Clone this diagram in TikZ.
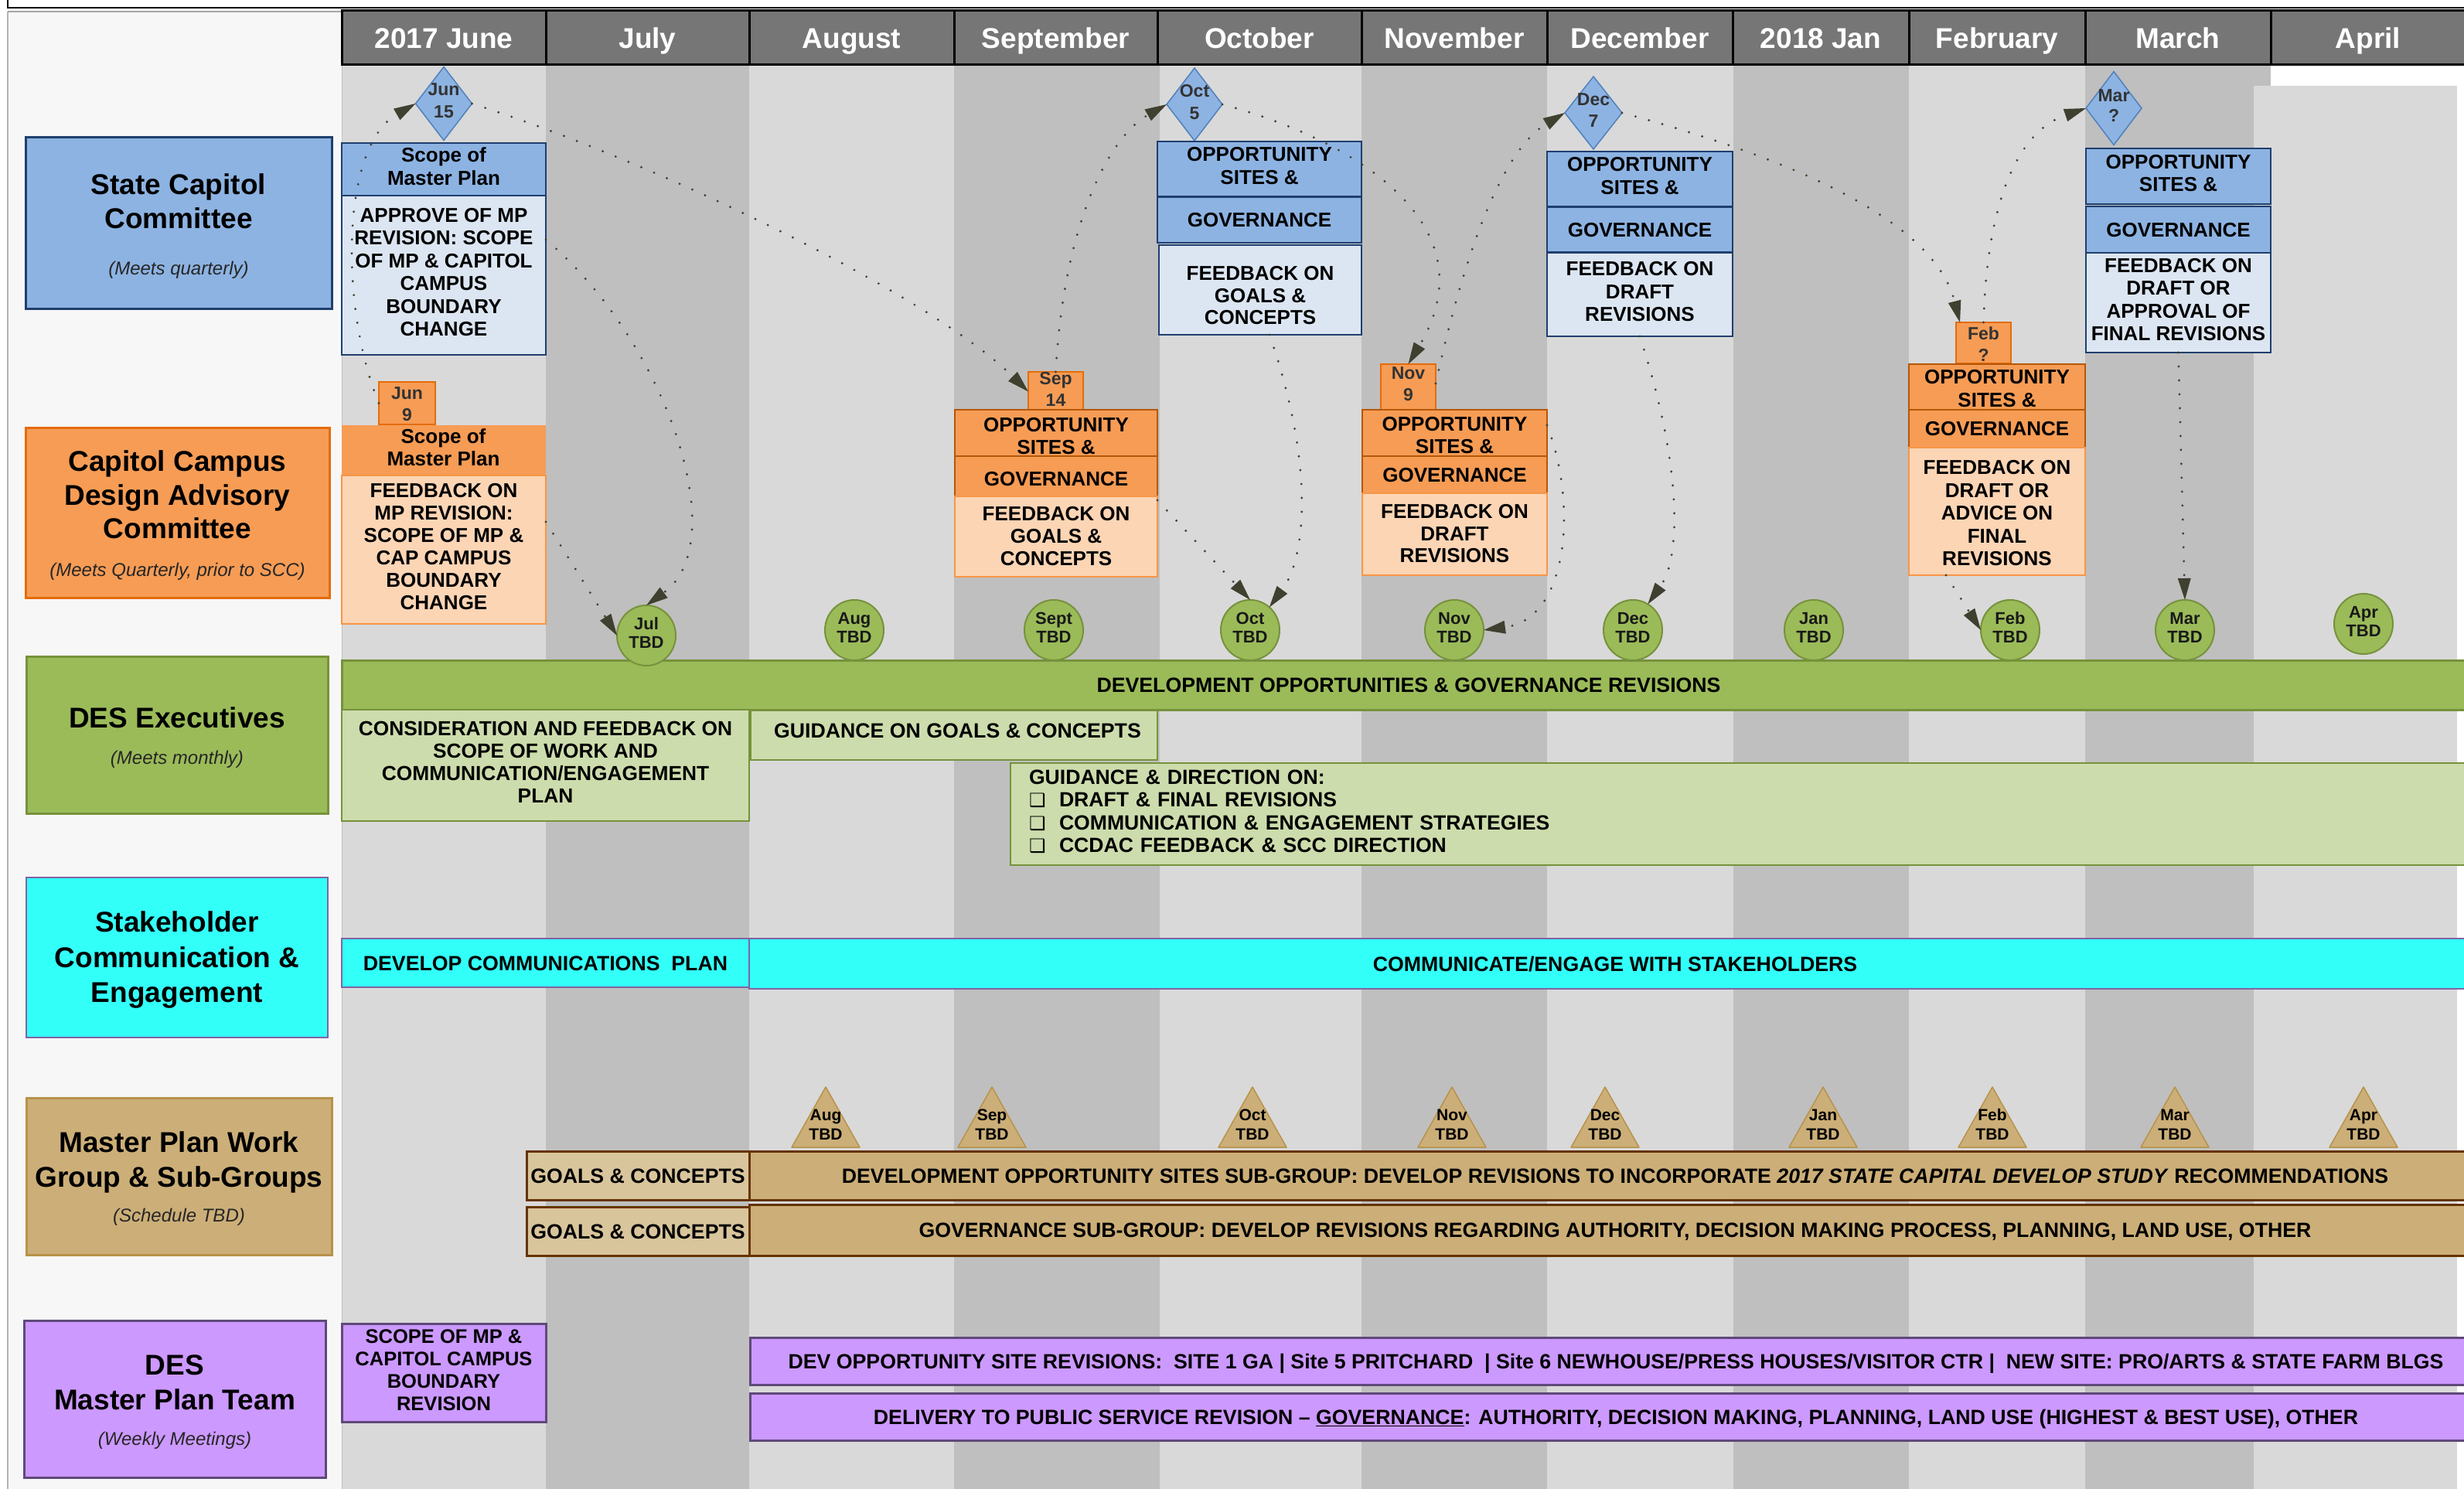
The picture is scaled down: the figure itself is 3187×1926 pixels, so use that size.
\documentclass[tikz,border=0pt]{standalone}
\usepackage{fontspec}
\setmainfont{Liberation Sans}
\newfontfamily\symfont{DejaVu Sans}
\usetikzlibrary{shapes.geometric,arrows.meta,calc}
\newcommand\fsz[2]{\fontsize{#1pt}{#2pt}\selectfont}
\newcommand\bul{\makebox[39pt][l]{\symfont\fsz{24}{24}\char"2751}}
\definecolor{hdr}{HTML}{767676}
\definecolor{colL}{HTML}{D9D9D9}
\definecolor{colD}{HTML}{BFBFBF}
\definecolor{panel}{HTML}{F7F7F7}
\definecolor{blueF}{HTML}{8DB3E2}
\definecolor{blueL}{HTML}{DCE6F2}
\definecolor{blueB}{HTML}{1F3F6E}
\definecolor{diaB}{HTML}{4F81BD}
\definecolor{orF}{HTML}{F69C55}
\definecolor{orF2}{HTML}{F79646}
\definecolor{orL}{HTML}{FCD5B5}
\definecolor{orB}{HTML}{E46C0A}
\definecolor{orB2}{HTML}{B65708}
\definecolor{grF}{HTML}{9BBB59}
\definecolor{grL}{HTML}{CDDCAC}
\definecolor{grB}{HTML}{76923C}
\definecolor{cyF}{HTML}{33FFF9}
\definecolor{cyB}{HTML}{8064A2}
\definecolor{tanF}{HTML}{CCAF78}
\definecolor{tanL}{HTML}{D9C59C}
\definecolor{tanB}{HTML}{B8924A}
\definecolor{brn}{HTML}{663300}
\definecolor{puF}{HTML}{CC99FF}
\definecolor{puB}{HTML}{5F497A}
\definecolor{arr}{HTML}{404030}
\definecolor{dtxt}{HTML}{333333}
\tikzset{
  every node/.style={inner sep=0pt, outer sep=0pt},
  tx/.style={align=center,
    execute at begin node={\rule{0pt}{1.016em}},
    execute at end node={\rule[-.3em]{0pt}{.3em}}},
  up/.style={execute at end node={\rule[-\dimexpr.3em+#1pt\relax]{0pt}{\dimexpr.3em+#1pt\relax}}},
  btx/.style={tx, font=\bfseries\fsz{26}{29.5}},
  bx/.style={tx, rectangle, anchor=north west, font=\bfseries\fsz{26}{29.5}},
  bar/.style={tx, rectangle, anchor=north west, font=\bfseries\fsz{26.7}{29.5}},
  mon/.style={bx, fill=hdr, draw=black, line width=3pt, text=white, font=\bfseries\fsz{37}{40}, minimum height=70},
  lane/.style={rectangle, anchor=north west, line width=3pt},
  ttl/.style={tx, font=\bfseries\fsz{37}{44}},
  sub/.style={tx, font=\itshape\fsz{24}{28}, text=black!85},
  sccH/.style={bx, fill=blueF, draw=blueB, line width=2pt},
  sccB/.style={bx, fill=blueL, draw=blueB, line width=2pt},
  cdH/.style={bx, fill=orF, draw=orB2, line width=2.5pt},
  cdB/.style={bx, fill=orL, draw=orF2, line width=2pt},
  dia/.style={diamond, fill=blueF, draw=diaB, line width=1.5pt},
  dsq/.style={bx, fill=orF, draw=orB, line width=2pt, text=dtxt, font=\bfseries\fsz{23}{28}},
  dtx/.style={tx, text=dtxt, font=\bfseries\fsz{23}{28}},
  mtg/.style={tx, ellipse, fill=grF, draw=grB, line width=2pt, minimum width=76, minimum height=78, text=black!90, font=\bfseries\fsz{22}{24}},
  gbar/.style={bar, fill=grF, draw=grB, line width=3pt},
  gbox/.style={bar, fill=grL, draw=grB, line width=2pt},
  cbar/.style={bar, fill=cyF, draw=cyB, line width=2pt},
  tbarL/.style={bar, fill=tanL, draw=brn, line width=3pt},
  tbar/.style={bar, fill=tanF, draw=brn, line width=3pt},
  pbar/.style={bar, fill=puF, draw=puB, line width=3pt},
  conn/.style={draw=arr, line width=3.2pt, line cap=round, dash pattern=on 0pt off 18pt,
    -{Triangle[length=28pt,width=17pt,line width=0pt]}}
}
\begin{document}
\begin{tikzpicture}[x=1pt,y=-1pt]
\useasboundingbox (0,0) rectangle (3187,1926);
\fill[white] (0,0) rectangle (3187,1926);
% left panel and month columns
\fill[panel] (10,15) rectangle (442,1926);
\fill[colL] (442,84) rectangle (2915,1926);
\foreach \a/\b in {706/969,1234/1500,1761/2001,2242/2469}{\fill[colD] (\a,84) rectangle (\b,1926);}
\fill[colD] (2697,84) rectangle (2937,111);
\fill[colD] (2697,111) rectangle (2915,1926);
\fill[colL] (2915,111) rectangle (3178,1926);
\draw[black!30, line width=1.5pt] (10,15) -- (10,1926);
\draw[black!25, line width=1pt] (442,84) -- (442,1926);
\draw[black, line width=2pt] (10,0) -- (10,10) -- (3187,10);
\draw[black!35, line width=1.5pt] (10,15) -- (3187,15);

% month header
\node[mon, minimum width=264] (m1) at (442,14) {2017 June};
\node[mon, minimum width=263] (m2) at (706,14) {July};
\node[mon, minimum width=265] (m3) at (969,14) {August};
\node[mon, minimum width=263] (m4) at (1234,14) {September};
\node[mon, minimum width=264] (m5) at (1497,14) {October};
\node[mon, minimum width=240] (m6) at (1761,14) {November};
\node[mon, minimum width=240] (m7) at (2001,14) {December};
\node[mon, minimum width=228] (m8) at (2241,14) {2018 Jan};
\node[mon, minimum width=228] (m9) at (2469,14) {February};
\node[mon, minimum width=240] (m10) at (2697,14) {March};
\node[mon, minimum width=252] (m11) at (2937,14) {April};

% lane labels
\node[lane, fill=blueF, draw=blueB, minimum width=396, minimum height=221] (L1) at (33,178) {};
\node[ttl] (L1t) at (231,266) {State Capitol\\Committee};
\node[sub] (L1s) at (231,347) {(Meets quarterly)};
\node[lane, fill=orF, draw=orB, minimum width=393, minimum height=220] (L2) at (33,553) {};
\node[ttl, font=\bfseries\fsz{37}{43.5}] (L2t) at (229.5,645.5) {Capitol Campus\\Design Advisory\\Committee};
\node[sub] (L2s) at (229.5,737) {(Meets Quarterly, prior to SCC)};
\node[lane, fill=grF, draw=grB, minimum width=390, minimum height=203] (L3) at (34,849) {};
\node[ttl] (L3t) at (229,928) {DES Executives};
\node[sub] (L3s) at (229,980) {(Meets monthly)};
\node[lane, fill=cyF, draw=cyB, line width=2.5pt, minimum width=390, minimum height=207] (L4) at (34,1135) {};
\node[ttl, font=\bfseries\fsz{37}{45.5}] (L4t) at (229,1243.5) {Stakeholder\\Communication \&\\Engagement};
\node[lane, fill=tanF, draw=tanB, minimum width=395, minimum height=203] (L5) at (34,1420) {};
\node[ttl, font=\bfseries\fsz{37}{45}] (L5t) at (231.5,1505.5) {Master Plan Work\\Group \& Sub-Groups};
\node[sub] (L5s) at (231.5,1572) {(Schedule TBD)};
\node[lane, fill=puF, draw=puB, minimum width=390, minimum height=203] (L6) at (31,1708) {};
\node[ttl, font=\bfseries\fsz{37}{45}] (L6t) at (226,1793.5) {DES\\Master Plan Team};
\node[sub] (L6s) at (226,1861) {(Weekly Meetings)};

% State Capitol Committee row
\node[dia, minimum width=73, minimum height=95] (d1) at (574,134) {};
\node[dtx, font=\bfseries\fsz{23}{29}] (d1t) at (d1) {Jun\\15};
\node[sccH, minimum width=264, minimum height=68] (s1h) at (442,185) {Scope of\\Master Plan};
\node[sccB, minimum width=264, minimum height=206] (s1b) at (442,253) {APPROVE OF MP\\REVISION: SCOPE\\OF MP \& CAPITOL\\CAMPUS\\BOUNDARY\\CHANGE};
\node[dia, minimum width=72, minimum height=94] (d2) at (1545,135) {};
\node[dtx, font=\bfseries\fsz{23}{29}] (d2t) at (d2) {Oct\\5};
\node[sccH, minimum width=264, minimum height=71] (s2a) at (1497,183) {OPPORTUNITY\\SITES \&};
\node[sccH, minimum width=264, minimum height=59] (s2g) at (1497,255) {GOVERNANCE};
\node[sccB, minimum width=262, minimum height=116] (s2b) at (1499,317) {};
\node[btx, font=\bfseries\fsz{26}{28.5}] (s2bt) at ($(s2b.center)+(0,11)$) {FEEDBACK ON\\GOALS \&\\CONCEPTS};
\node[dia, minimum width=74, minimum height=94] (d3) at (2061,146) {};
\node[dtx] (d3t) at (d3) {Dec\\7};
\node[sccH, minimum width=240, minimum height=71] (s3a) at (2001,196) {OPPORTUNITY\\SITES \&};
\node[sccH, minimum width=240, minimum height=58] (s3g) at (2001,268) {GOVERNANCE};
\node[sccB, minimum width=240, minimum height=108] (s3b) at (2001,327) {FEEDBACK ON\\DRAFT\\REVISIONS};
\node[dia, minimum width=72, minimum height=95] (d4) at (2734,140) {};
\node[dtx, font=\bfseries\fsz{23}{26}] (d4t) at (d4) {Mar\\?};
\node[sccH, minimum width=239, minimum height=72] (s4a) at (2698,192) {OPPORTUNITY\\SITES \&};
\node[sccH, minimum width=239, minimum height=60] (s4g) at (2698,267) {GOVERNANCE};
\node[sccB, minimum width=239, minimum height=129] (s4b) at (2698,327) {FEEDBACK ON\\DRAFT OR\\APPROVAL OF\\FINAL REVISIONS};

% CCDAC row
\node[dsq, minimum width=73, minimum height=55] (c1) at (490,494) {};
\node[dtx] (c1t) at ($(c1.center)+(0,5)$) {Jun\\9};
\node[bx, fill=orF, draw=orF, line width=1pt, minimum width=263, minimum height=65] (c1h) at (442,550) {Scope of\\Master Plan};
\node[cdB, minimum width=264, minimum height=192, font=\bfseries\fsz{26}{29}] (c1b) at (442,615) {FEEDBACK ON\\MP REVISION:\\SCOPE OF MP \&\\CAP CAMPUS\\BOUNDARY\\CHANGE};
\node[dsq, minimum width=71, minimum height=50] (c2) at (1330,481) {Sep\\14};
\node[cdH, minimum width=262, minimum height=60] (c2a) at (1235,530) {};
\node[btx] (c2at) at ($(c2a.center)+(0,8)$) {OPPORTUNITY\\SITES \&};
\node[cdH, minimum width=262, minimum height=52] (c2g) at (1235,590) {};
\node[btx] (c2gt) at ($(c2g.center)+(0,3)$) {GOVERNANCE};
\node[cdB, minimum width=262, minimum height=104] (c2b) at (1235,642) {};
\node[btx, font=\bfseries\fsz{26}{29}] (c2bt) at ($(c2b.center)+(0,3)$) {FEEDBACK ON\\GOALS \&\\CONCEPTS};
\node[dsq, minimum width=71, minimum height=59] (c3) at (1786,471) {Nov\\9};
\node[cdH, minimum width=239, minimum height=60] (c3a) at (1762,530) {};
\node[btx] (c3at) at ($(c3a.center)+(0,7)$) {OPPORTUNITY\\SITES \&};
\node[cdH, minimum width=239, minimum height=48] (c3g) at (1762,590) {GOVERNANCE};
\node[cdB, minimum width=239, minimum height=106] (c3b) at (1762,638) {};
\node[btx, font=\bfseries\fsz{26}{28.5}] (c3bt) at ($(c3b.center)+(0,3)$) {FEEDBACK ON\\DRAFT\\REVISIONS};
\node[dsq, minimum width=71, minimum height=53] (c4) at (2530,417) {};
\node[dtx] (c4t) at ($(c4.center)+(0,5)$) {Feb\\?};
\node[cdH, minimum width=228, minimum height=59] (c4a) at (2469,471) {};
\node[btx] (c4at) at ($(c4a.center)+(0,6)$) {OPPORTUNITY\\SITES \&};
\node[cdH, minimum width=228, minimum height=49] (c4g) at (2469,530) {GOVERNANCE};
\node[cdB, minimum width=228, minimum height=165] (c4b) at (2469,579) {};
\node[btx] (c4bt) at ($(c4b.center)+(0,6)$) {FEEDBACK ON\\DRAFT OR\\ADVICE ON\\FINAL\\REVISIONS};

% DES Executives row
\node[gbar, minimum width=2760, minimum height=64] (gb) at (442,854) {DEVELOPMENT OPPORTUNITIES \& GOVERNANCE REVISIONS};
\node[gbox, minimum width=527, minimum height=144, font=\bfseries\fsz{26.3}{29}] (g1) at (442,918) {CONSIDERATION AND FEEDBACK ON\\SCOPE OF WORK AND\\COMMUNICATION/ENGAGEMENT\\PLAN};
\node[gbox, minimum width=526, minimum height=64, up=12] (g2) at (971,919) {\hspace*{9pt}GUIDANCE ON GOALS \& CONCEPTS};
\node[gbox, align=left, text width=1860, inner xsep=24pt, minimum height=132, font=\bfseries\fsz{26.6}{29.6}, up=8] (g3) at (1307,987) {GUIDANCE \& DIRECTION ON:\\\bul DRAFT \& FINAL REVISIONS\\\bul COMMUNICATION \& ENGAGEMENT STRATEGIES\\\bul CCDAC FEEDBACK \& SCC DIRECTION};

% meeting circles
\node[mtg] (eJul) at (836,822) {Jul\\TBD};
\node[mtg] (eAug) at (1105,815) {Aug\\TBD};
\node[mtg] (eSep) at (1363,815) {Sept\\TBD};
\node[mtg] (eOct) at (1617,815) {Oct\\TBD};
\node[mtg] (eNov) at (1881,815) {Nov\\TBD};
\node[mtg] (eDec) at (2112,815) {Dec\\TBD};
\node[mtg] (eJan) at (2346,815) {Jan\\TBD};
\node[mtg] (eFeb) at (2600,815) {Feb\\TBD};
\node[mtg] (eMar) at (2826,815) {Mar\\TBD};
\node[mtg] (eApr) at (3057,807) {Apr\\TBD};

% Stakeholder row
\node[cbar, minimum width=527, minimum height=63] (k1) at (442,1214) {DEVELOP COMMUNICATIONS\ \ PLAN};
\node[cbar, minimum width=2240, minimum height=65] (k2) at (969,1214) {COMMUNICATE/ENGAGE WITH STAKEHOLDERS};

% Work group row
\foreach \x/\m [count=\i] in {1068/Aug,1283/Sep,1620/Oct,1878/Nov,2076/Dec,2358/Jan,2577/Feb,2813/Mar,3057/Apr}{
  \filldraw[fill=tanF, draw=tanB, line width=1.5pt, line join=round] (\x-44,1484) -- (\x,1406) -- (\x+44,1484) -- cycle;
  \node[tx, font=\bfseries\fsz{21}{25}] (tri\i) at (\x,1458) {\m\\TBD};
}
\node[tbarL, minimum width=288, minimum height=63] (w1) at (681,1489) {GOALS \& CONCEPTS};
\node[tbar, minimum width=2240, minimum height=63] (w2) at (969,1489) {DEVELOPMENT OPPORTUNITY SITES SUB-GROUP: DEVELOP REVISIONS TO INCORPORATE \textit{2017 STATE CAPITAL DEVELOP STUDY} RECOMMENDATIONS};
\node[tbarL, minimum width=288, minimum height=63] (w3) at (681,1561) {GOALS \& CONCEPTS};
\node[tbar, minimum width=2240, minimum height=66] (w4) at (969,1558) {GOVERNANCE SUB-GROUP: DEVELOP REVISIONS REGARDING AUTHORITY, DECISION MAKING PROCESS, PLANNING, LAND USE, OTHER};

% Master plan team row
\node[pbar, minimum width=264, minimum height=127, font=\bfseries\fsz{25.5}{29}] (p1) at (442,1712) {SCOPE OF MP \&\\CAPITOL CAMPUS\\BOUNDARY\\REVISION};
\node[pbar, minimum width=2240, minimum height=61] (p2) at (970,1730) {DEV OPPORTUNITY SITE REVISIONS:\ \ SITE 1 GA | Site 5 PRITCHARD\ \ | Site 6 NEWHOUSE/PRESS HOUSES/VISITOR CTR |\ \ NEW SITE: PRO/ARTS \& STATE FARM BLGS};
\node[pbar, minimum width=2240, minimum height=61] (p3) at (970,1802) {DELIVERY TO PUBLIC SERVICE REVISION -- \underline{GOVERNANCE}: AUTHORITY, DECISION MAKING, PLANNING, LAND USE (HIGHEST \& BEST USE), OTHER};

% connectors
\draw[conn] (c1.west) .. controls (440,400) and (440,190) .. (d1.west);
\draw[conn] (d1.east) .. controls (850,210) and (1200,380) .. (c2.west);
\draw[conn] ($(s1b.north east)+(0,57)$) .. controls (860,440) and (950,700) .. (eJul.north);
\draw[conn] ($(c1b.north east)+(0,60)$) -- (eJul.west);
\draw[conn] (c2.north) .. controls (1375,300) and (1430,180) .. (d2.west);
\draw[conn] (d2.east) .. controls (1750,180) and (1930,290) .. (c3.north);
\draw[conn] ($(s2b.south)+(12,0)$) .. controls (1700,600) and (1690,720) .. (eOct.50);
\draw[conn] ($(c2b.north east)+(0,5)$) -- (eOct.north);
\draw[conn] ($(c3.north east)+(0,25)$) .. controls (1900,300) and (1950,190) .. (d3.west);
\draw[conn] ($(c3a.north east)+(0,20)$) .. controls (2040,650) and (2030,800) .. (eNov.east);
\draw[conn] (d3.east) .. controls (2300,200) and (2500,280) .. ($(c4.north west)+(5,0)$);
\draw[conn] (s3b.south) .. controls (2175,600) and (2175,720) .. (eDec.60);
\draw[conn] (c4.north) .. controls (2570,260) and (2610,170) .. (d4.west);
\draw[conn] ($(c4b.south west)+(48,0)$) -- (eFeb.west);
\draw[conn] (s4b.south) -- (eMar.north);
\end{tikzpicture}
\end{document}
